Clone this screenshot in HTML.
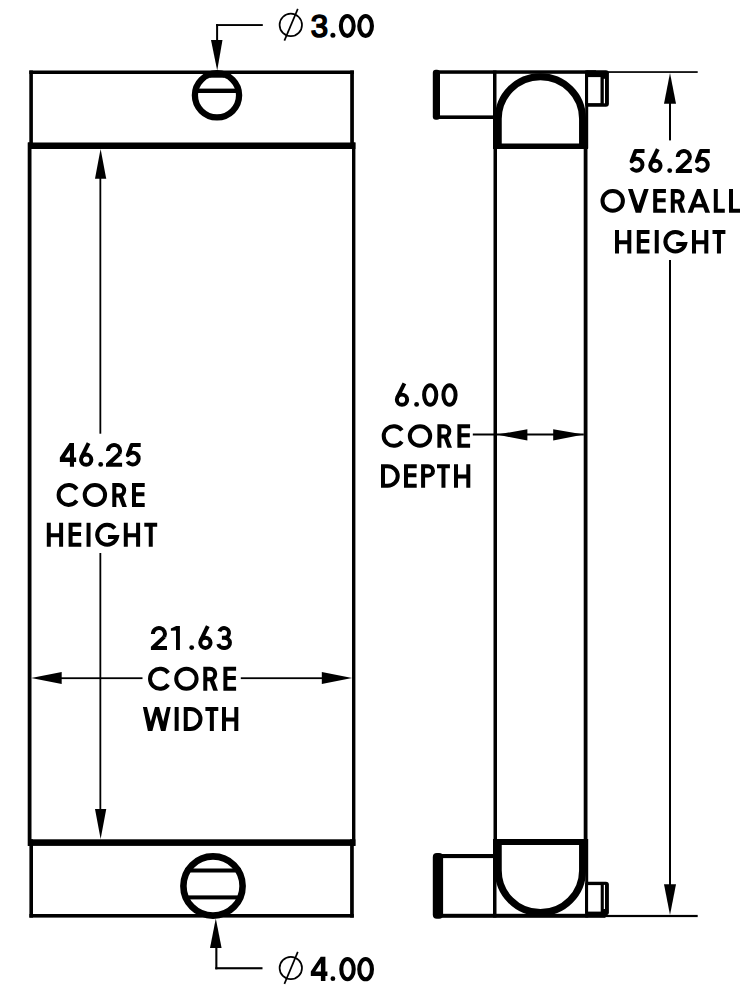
<!DOCTYPE html>
<html>
<head>
<meta charset="utf-8">
<style>
html,body{margin:0;padding:0;background:#fff;width:744px;height:1007px;overflow:hidden;}
svg{display:block;}
.dim{font-family:"Liberation Sans",sans-serif;font-size:32px;fill:#000;stroke:#000;stroke-width:0.8;}
.f{fill:#000;stroke:none;}
.dia{font-family:"Liberation Sans",sans-serif;font-weight:bold;font-size:33px;fill:#000;}
</style>
</head>
<body>
<svg width="744" height="1007" viewBox="0 0 744 1007">
<g fill="#000" stroke="none">
  <!-- ===== LEFT VIEW ===== -->
  <!-- top tank -->
  <rect x="29.3" y="70.5" width="324.6" height="3.5"/>
  <rect x="29.3" y="70.5" width="3.6" height="76"/>
  <rect x="350.2" y="70.5" width="3.7" height="76"/>
  <!-- core -->
  <rect x="28" y="142.5" width="327.4" height="6.5"/>
  <rect x="27.7" y="142.5" width="3.8" height="703.4"/>
  <rect x="352" y="142.5" width="3.4" height="703.4"/>
  <rect x="28" y="839.3" width="327.4" height="6.6"/>
  <!-- bottom tank -->
  <rect x="29.4" y="839.3" width="3.6" height="78.3"/>
  <rect x="350.1" y="839.3" width="3.7" height="78.3"/>
  <rect x="29.4" y="914" width="324.4" height="3.6"/>

  <!-- top inlet circle -->
  <circle cx="217" cy="95.3" r="22.1" fill="none" stroke="#000" stroke-width="6.3"/>
  <rect x="197.5" y="88.6" width="39" height="4.4"/>
  <rect x="209.8" y="72" width="14.4" height="5.7"/>
  <!-- top leader -->
  <rect x="216.1" y="24.1" width="2" height="17"/>
  <rect x="216.1" y="24.1" width="46.7" height="1.9"/>
  <polygon points="211,40 222.5,40 217.2,70.5"/>

  <!-- bottom outlet circle -->
  <circle cx="213" cy="886" r="29.6" fill="none" stroke="#000" stroke-width="6.6"/>
  <rect x="185" y="868.5" width="56" height="4"/>
  <rect x="185" y="895.4" width="56" height="4"/>
  <!-- bottom leader -->
  <rect x="215.3" y="946" width="2.1" height="23.3"/>
  <rect x="215.3" y="967.2" width="47.2" height="2.1"/>
  <polygon points="210,948 221.6,948 215.8,918.5"/>

  <!-- core height dim -->
  <rect x="99.45" y="170" width="1.8" height="263.7"/>
  <rect x="99.45" y="553" width="1.8" height="265"/>
  <polygon points="95,178.75 106.25,178.75 100.6,149"/>
  <polygon points="95,809 106.25,809 100.6,839"/>

  <!-- core width dim -->
  <rect x="50" y="677.3" width="92.5" height="1.8"/>
  <rect x="240.8" y="677.3" width="90" height="1.8"/>
  <polygon points="31.2,678.1 61.7,672 61.7,683.9"/>
  <polygon points="352.1,678.1 321.8,672 321.8,683.9"/>

  <!-- ===== RIGHT VIEW ===== -->
  <!-- top line -->
  <rect x="436" y="70.3" width="160" height="3.5"/>
  <rect x="600" y="71.2" width="97.7" height="1.7"/>
  <!-- top left stub -->
  <rect x="432.8" y="69.8" width="7.2" height="50" rx="3"/>
  <rect x="438" y="115.4" width="58" height="3.6"/>
  <!-- top tank verticals -->
  <rect x="493" y="70.5" width="3.5" height="78"/>
  <rect x="585.2" y="70.5" width="3" height="78"/>
  <!-- core verticals -->
  <rect x="493.5" y="143.5" width="3.5" height="701"/>
  <rect x="583.7" y="143.5" width="3.8" height="701"/>
  <!-- top tank bottom thick -->
  <rect x="493" y="143.5" width="95" height="5.5"/>
  <!-- top right stub -->
  <rect x="585" y="70.2" width="23.9" height="36.5" rx="3"/>
  <rect x="588.1" y="77.1" width="12.4" height="26" fill="#fff"/>
  <rect x="603.8" y="78.8" width="1.2" height="24.5" fill="#fff"/>

  <!-- bottom tank top thick -->
  <rect x="493" y="839" width="95" height="6"/>
  <!-- bottom left stub -->
  <rect x="432.8" y="853" width="10.3" height="65.8" rx="4"/>
  <rect x="440" y="854" width="56" height="4.1"/>
  <!-- bottom tank verticals -->
  <rect x="493" y="839" width="3.5" height="78.5"/>
  <rect x="585.2" y="839" width="3" height="78.5"/>
  <!-- bottom line -->
  <rect x="436" y="913.8" width="169.5" height="4"/>
  <rect x="600" y="914.9" width="97.7" height="2.2"/>
  <!-- bottom right stub -->
  <rect x="585" y="881.8" width="23.9" height="33.5" rx="3"/>
  <rect x="588.1" y="885.1" width="12.6" height="26.5" fill="#fff"/>
  <rect x="603.8" y="884.9" width="1.2" height="24.1" fill="#fff"/>

  <!-- overall height dim -->
  <rect x="669" y="100" width="2" height="40.4"/>
  <rect x="669" y="260" width="2" height="627"/>
  <polygon points="664,103.75 676,103.75 670,73"/>
  <polygon points="664,884.2 676,884.2 670,915"/>

  <!-- core depth dim -->
  <rect x="472.8" y="433.5" width="111" height="2"/>
  <polygon points="497,434.6 527.4,429.2 527.4,440.6"/>
  <polygon points="583.7,434.6 553.2,429.2 553.2,440.6"/>
</g>
<!-- arcs -->
<path d="M498.25 145 V118.8 A42.15 42.15 0 0 1 582.55 118.8 V145" fill="none" stroke="#000" stroke-width="7"/>
<path d="M498.25 843 V870.5 A42.15 42.15 0 0 0 582.55 870.5 V843" fill="none" stroke="#000" stroke-width="7"/>

<!-- diameter symbols -->
<g fill="none" stroke="#000" stroke-width="1.7">
  <circle cx="290.8" cy="24.9" r="11.2"/>
  <line x1="284.4" y1="40.7" x2="297.8" y2="8.8"/>
  <circle cx="290.8" cy="968" r="11.2"/>
  <line x1="284.4" y1="983.8" x2="297.8" y2="951.8"/>
</g>

<!-- texts -->
<text transform="matrix(0.94388 0 0 0.95400 27.481 -1.383)" x="300" y="40" font-family="Liberation Sans" font-size="33" fill="#000" stroke="#000" stroke-width="1.7">3</text>
<circle cx="332.9" cy="35.35" r="2.5" fill="#000"/>
<g fill="none" stroke="#000" stroke-width="4.1">
  <ellipse cx="347.28" cy="25.95" rx="6.4" ry="9.9"/>
  <ellipse cx="365.6" cy="25.95" rx="6.35" ry="9.9"/>
  <ellipse cx="347.5" cy="969.15" rx="6.2" ry="10.1"/>
  <ellipse cx="365.6" cy="969.15" rx="6.35" ry="10.1"/>
</g>
<path fill="#000" fill-rule="evenodd" transform="translate(310.8 956.8)" d="M9.9 0H14.6V14.6H16.6V19.1H14.6V24.1H10.1V19.1H0V14.8ZM10.1 6.3V14.6H4.5Z"/>
<circle cx="332.9" cy="978.65" r="2.4" fill="#000"/>




<!--GLYPHS-->
<g class="gl" fill="none" stroke="#000" stroke-width="4.0">
<g transform="translate(59.85 443.0) scale(1 0.9917)"><path class="f" fill-rule="evenodd" d="M9.75 0H14.15V14.65H16.3V19.05H14.15V24H10.05V19.05H0V14.65ZM10.05 7.15V14.65H5.05Z"/></g>
<g transform="translate(78.8 443.0) scale(1 0.9917)"><path d="M9.8 0.2L2.7 14.6"/><circle cx="7.4" cy="16.8" r="5.15"/></g>
<g transform="translate(98.3 443.0) scale(1 0.9917)"><circle class="f" cx="2.4" cy="21.6" r="2.4"/></g>
<g transform="translate(106.0 443.0) scale(1 0.9917)"><path d="M2 8.05A6.05 6.05 0 1 1 13.39 10.89"/><polygon class="f" points="12.03,9.43 14.75,12.35 6.54,20 16.1,20 16.1,24 0,24 0,20.64"/></g>
<g transform="translate(125.4 443.0) scale(1 0.9917)"><path d="M15.3 2H6.3L2.39 12.26A6 6 0 1 1 2.1 18.7" stroke-linejoin="round"/></g>
<g transform="translate(56.6 483.0) scale(1 0.9958)"><path d="M20.19 6.26A10 10 0 1 0 20.19 17.74"/></g>
<g transform="translate(82.7 483.0) scale(1 0.9958)"><ellipse cx="12.2" cy="12" rx="10.2" ry="10"/></g>
<g transform="translate(112.3 483.0) scale(1 0.9958)"><path d="M2 24V2H6.6A5.3 5.3 0 0 1 6.6 12.6H2"/><polygon class="f" points="5.6,12 10.2,12 14.6,24 10.0,24"/></g>
<g transform="translate(132.0 483.0) scale(1 0.9958)"><path d="M12.7 2H2V22H12.7M2 11.3H12.4"/></g>
<g transform="translate(46.8 522.8) scale(1 1.0000)"><path d="M2 0V24M14.3 0V24M2 12.5H14.3"/></g>
<g transform="translate(68.6 522.8) scale(1 1.0000)"><path d="M12.7 2H2V22H12.7M2 11.3H12.4"/></g>
<g transform="translate(86.5 522.8) scale(1 1.0000)"><path d="M2.05 0V24"/></g>
<g transform="translate(95.2 522.8) scale(1 1.0000)"><path d="M19.66 5.57A10 10 0 1 0 21.73 14.3H12.8"/></g>
<g transform="translate(123.8 522.8) scale(1 1.0000)"><path d="M2 0V24M14.3 0V24M2 12.5H14.3"/></g>
<g transform="translate(144.3 522.8) scale(1 1.0000)"><path d="M0 2H12.9M6.45 2V24"/></g>
<g transform="translate(150.9 626.0) scale(1 1.0000)"><path d="M2 8.05A6.05 6.05 0 1 1 13.39 10.89"/><polygon class="f" points="12.03,9.43 14.75,12.35 6.54,20 16.1,20 16.1,24 0,24 0,20.64"/></g>
<g transform="translate(170.9 626.0) scale(1 1.0000)"><rect class="f" x="5.1" y="0" width="3.9" height="24"/><polygon class="f" points="0,2.4 5.3,0 5.3,4.4 0,4.8"/></g>
<g transform="translate(189.3 626.0) scale(1 1.0000)"><circle class="f" cx="2.4" cy="21.6" r="2.4"/></g>
<g transform="translate(198.0 626.0) scale(1 1.0000)"><path d="M9.8 0.2L2.7 14.6"/><circle cx="7.4" cy="16.8" r="5.15"/></g>
<g transform="translate(215.5 626.0) scale(1 1.0000)"><path d="M3.9 5.4A4.9 4.9 0 1 1 8.6 11.8H6.4M8.4 11.8A5.9 5.1 0 1 1 2.78 17.96"/></g>
<g transform="translate(148.0 666.7) scale(1 1.0042)"><path d="M20.19 6.26A10 10 0 1 0 20.19 17.74"/></g>
<g transform="translate(174.2 666.7) scale(1 1.0042)"><ellipse cx="12.2" cy="12" rx="10.2" ry="10"/></g>
<g transform="translate(203.3 666.7) scale(1 1.0042)"><path d="M2 24V2H6.6A5.3 5.3 0 0 1 6.6 12.6H2"/><polygon class="f" points="5.6,12 10.2,12 14.6,24 10.0,24"/></g>
<g transform="translate(223.4 666.7) scale(1 1.0042)"><path d="M12.7 2H2V22H12.7M2 11.3H12.4"/></g>
<g transform="translate(142.9 707.0) scale(1 0.9958)"><polygon class="f" points="0,0 4.1,0 7.9,14.9 12.1,0 16.2,0 20.3,14.9 23.9,0 27.8,0 22.6,24 18.1,24 13.8,7.9 9.5,24 5.0,24"/></g>
<g transform="translate(174.6 707.0) scale(1 0.9958)"><path d="M2.05 0V24"/></g>
<g transform="translate(183.75 707.0) scale(1 0.9958)"><path d="M2 2V22H6.75A10 10 0 0 0 6.75 2Z"/></g>
<g transform="translate(205.4 707.0) scale(1 0.9958)"><path d="M0 2H12.9M6.45 2V24"/></g>
<g transform="translate(222.0 707.0) scale(1 0.9958)"><path d="M2 0V24M14.3 0V24M2 12.5H14.3"/></g>
<g transform="translate(629.2 149.0) scale(1 1.0000)"><path d="M15.3 2H6.3L2.39 12.26A6 6 0 1 1 2.1 18.7" stroke-linejoin="round"/></g>
<g transform="translate(648.0 149.0) scale(1 1.0000)"><path d="M9.8 0.2L2.7 14.6"/><circle cx="7.4" cy="16.8" r="5.15"/></g>
<g transform="translate(667.3 149.0) scale(1 1.0000)"><circle class="f" cx="2.4" cy="21.6" r="2.4"/></g>
<g transform="translate(675.8 149.0) scale(1 1.0000)"><path d="M2 8.05A6.05 6.05 0 1 1 13.39 10.89"/><polygon class="f" points="12.03,9.43 14.75,12.35 6.54,20 16.1,20 16.1,24 0,24 0,20.64"/></g>
<g transform="translate(694.5 149.0) scale(1 1.0000)"><path d="M15.3 2H6.3L2.39 12.26A6 6 0 1 1 2.1 18.7" stroke-linejoin="round"/></g>
<g transform="translate(600.5 189.0) scale(1 0.9917)"><ellipse cx="12.2" cy="12" rx="10.2" ry="10"/></g>
<g transform="translate(628.0 189.0) scale(1 0.9917)"><polygon class="f" points="0,0 4.7,0 10.35,17 16,0 20.7,0 13.0,24 7.7,24"/></g>
<g transform="translate(653.2 189.0) scale(1 0.9917)"><path d="M12.7 2H2V22H12.7M2 11.3H12.4"/></g>
<g transform="translate(670.8 189.0) scale(1 0.9917)"><path d="M2 24V2H6.6A5.3 5.3 0 0 1 6.6 12.6H2"/><polygon class="f" points="5.6,12 10.2,12 14.6,24 10.0,24"/></g>
<g transform="translate(687.6 189.0) scale(1 0.9917)"><polygon class="f" points="0,24 9.4,0 13.1,0 22.5,24 17.6,24 11.3,6.3 4.9,24"/><rect class="f" x="5" y="15.0" width="12.5" height="3.6"/></g>
<g transform="translate(713.8 189.0) scale(1 0.9917)"><path d="M2 0V22H11"/></g>
<g transform="translate(729.0 189.0) scale(1 0.9917)"><path d="M2 0V22H11"/></g>
<g transform="translate(615.0 230.0) scale(1 0.9750)"><path d="M2 0V24M14.3 0V24M2 12.5H14.3"/></g>
<g transform="translate(636.8 230.0) scale(1 0.9750)"><path d="M12.7 2H2V22H12.7M2 11.3H12.4"/></g>
<g transform="translate(654.7 230.0) scale(1 0.9750)"><path d="M2.05 0V24"/></g>
<g transform="translate(663.4 230.0) scale(1 0.9750)"><path d="M19.66 5.57A10 10 0 1 0 21.73 14.3H12.8"/></g>
<g transform="translate(692.0 230.0) scale(1 0.9750)"><path d="M2 0V24M14.3 0V24M2 12.5H14.3"/></g>
<g transform="translate(712.5 230.0) scale(1 0.9750)"><path d="M0 2H12.9M6.45 2V24"/></g>
<g transform="translate(394.6 383.2) scale(1 0.9833)"><path d="M9.8 0.2L2.7 14.6"/><circle cx="7.4" cy="16.8" r="5.15"/></g>
<g transform="translate(414.2 383.2) scale(1 0.9833)"><circle class="f" cx="2.4" cy="21.6" r="2.4"/></g>
<g transform="translate(422.0 383.2) scale(1 0.9833)"><ellipse cx="8.2" cy="12" rx="6.1" ry="10"/></g>
<g transform="translate(441.3 383.2) scale(1 0.9833)"><ellipse cx="8.2" cy="12" rx="6.1" ry="10"/></g>
<g transform="translate(381.7 424.2) scale(1 0.9833)"><path d="M20.19 6.26A10 10 0 1 0 20.19 17.74"/></g>
<g transform="translate(407.8 424.2) scale(1 0.9833)"><ellipse cx="12.2" cy="12" rx="10.2" ry="10"/></g>
<g transform="translate(437.4 424.2) scale(1 0.9833)"><path d="M2 24V2H6.6A5.3 5.3 0 0 1 6.6 12.6H2"/><polygon class="f" points="5.6,12 10.2,12 14.6,24 10.0,24"/></g>
<g transform="translate(457.4 424.2) scale(1 0.9833)"><path d="M12.7 2H2V22H12.7M2 11.3H12.4"/></g>
<g transform="translate(381.0 464.2) scale(1 0.9833)"><path d="M2 2V22H6.75A10 10 0 0 0 6.75 2Z"/></g>
<g transform="translate(404.0 464.2) scale(1 0.9833)"><path d="M12.7 2H2V22H12.7M2 11.3H12.4"/></g>
<g transform="translate(421.1 464.2) scale(1 0.9833)"><path d="M2 24V2H7.1A4.8 4.8 0 0 1 7.1 11.6H2"/></g>
<g transform="translate(437.0 464.2) scale(1 0.9833)"><path d="M0 2H12.9M6.45 2V24"/></g>
<g transform="translate(454.0 464.2) scale(1 0.9833)"><path d="M2 0V24M14.3 0V24M2 12.5H14.3"/></g>
</g>
<!--/GLYPHS-->
</svg>
</body>
</html>
